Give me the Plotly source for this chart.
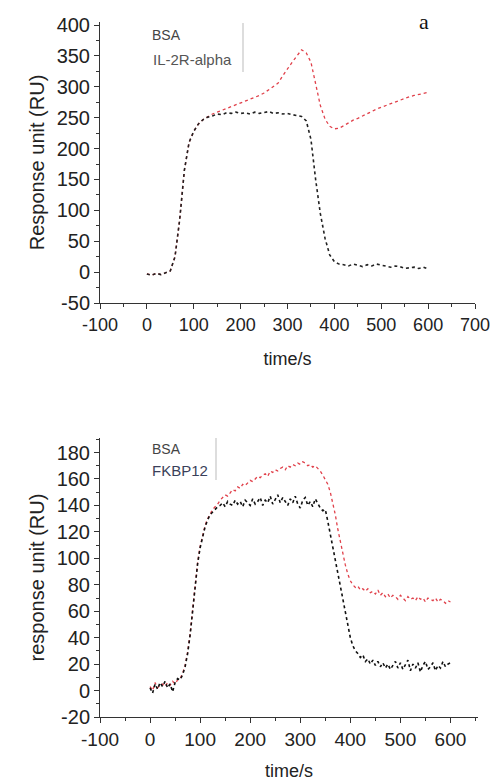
import plotly.graph_objects as go

# ---------------- data ----------------
# Panel a (top): time step 10 s
t_top = list(range(0, 601, 10))
bsa_top = [-3, -5, -2, -4, -1, 2, 25, 85, 165, 210,
           228, 240, 247, 251, 253, 256, 255, 258, 257, 259,
           257, 258, 256, 259, 257, 258, 260, 257, 258, 256,
           257, 255, 254, 252, 245, 215, 150, 95, 55, 28,
           17, 13, 12, 10, 13, 11, 9, 12, 10, 13,
           11, 9, 8, 10, 9, 6, 7, 8, 6, 8, 5]
il2r_top = [-3, -5, -2, -4, -1, 2, 25, 85, 165, 210,
            228, 240, 247, 252, 256, 259, 262, 265, 268, 271,
            273, 276, 279, 282, 286, 290, 295, 300, 306, 318,
            330, 340, 350, 360, 355, 340, 305, 270, 248, 236,
            232, 233, 237, 242, 246, 249, 253, 256, 260, 264,
            267, 270, 273, 276, 279, 282, 284, 286, 288, 289, 291]

# Bottom panel: time step 5 s
t_bot = list(range(0, 601, 5))
bsa_bot = [2, -2, 5, 1, 6, 3, 7, 2, 5, -1, 6, 9, 8, 12, 18, 28, 42, 60, 78, 96,
           108, 117, 124, 129, 133, 135, 137, 139, 140, 142, 139, 143, 141, 140, 144, 141, 143, 139, 144, 142,
           140, 145, 141, 143, 146, 140, 144, 142, 147, 141, 144, 148, 142, 146, 143, 140, 145, 142, 147, 141,
           138, 144, 146, 140, 143, 139, 145, 141, 138, 136, 137, 128, 118, 110, 100, 88, 78, 68, 58, 49,
           40, 34, 30, 28, 25, 27, 22, 24, 20, 23, 19, 22, 18, 21, 17, 20, 16, 19, 22, 17,
           21, 16, 19, 23, 15, 20, 17, 21, 14, 19, 22, 16, 18, 21, 15, 19, 17, 22, 18, 20, 21]
fkbp_bot = [3, 0, 6, 2, 4, 5, 3, 6, 4, 7, 5, 8, 9, 13, 19, 29, 43, 61, 79, 97,
            109, 118, 125, 130, 134, 137, 139, 141, 144, 146, 148, 147, 150, 152, 151, 154, 153, 156, 155, 157,
            159, 158, 160, 162, 161, 163, 164, 162, 166, 165, 167, 166, 168, 169, 167, 170, 169, 171, 170, 172,
            171, 173, 172, 170, 171, 169, 170, 168, 166, 163, 160, 156, 150, 142, 133, 122, 112, 103, 95, 88,
            83, 80, 78, 79, 76, 77, 75, 77, 74, 75, 73, 76, 72, 74, 71, 73, 70, 72, 71, 69,
            72, 70, 68, 71, 69, 70, 68, 71, 69, 70, 67, 70, 69, 68, 70, 67, 69, 68, 66, 68, 67]

top_x_ticks = list(range(-100, 701, 100))
top_y_ticks = list(range(-50, 401, 50))
bot_x_ticks = list(range(-100, 601, 100))
bot_y_ticks = list(range(-20, 181, 20))

top_legend = ["BSA", "IL-2R-alpha"]
bot_legend = ["BSA", "FKBP12"]

# ---------------- figure ----------------
W, H = 496, 781
def px(x):
    return x / W
def py(y):
    return 1 - y / H

RED = "#e0404a"
fig = go.Figure()

fig.add_trace(go.Scatter(x=t_top, y=il2r_top, mode="lines", xaxis="x", yaxis="y",
                         line=dict(color=RED, width=1.3, dash="dot"), showlegend=False))
fig.add_trace(go.Scatter(x=t_top, y=bsa_top, mode="lines", xaxis="x", yaxis="y",
                         line=dict(color="#222222", width=1.6, dash="dot"), showlegend=False))
fig.add_trace(go.Scatter(x=t_bot, y=fkbp_bot, mode="lines", xaxis="x2", yaxis="y2",
                         line=dict(color=RED, width=1.3, dash="dot"), showlegend=False))
fig.add_trace(go.Scatter(x=t_bot, y=bsa_bot, mode="lines", xaxis="x2", yaxis="y2",
                         line=dict(color="#111111", width=1.6, dash="dot"), showlegend=False))

FONT = "Liberation Sans, Arial, sans-serif"
axis_common = dict(showline=True, linecolor="#333", linewidth=1, showgrid=False, zeroline=False,
                   ticks="outside", ticklen=5, tickcolor="#333", automargin=False,
                   minor=dict(ticks="outside", ticklen=3, tickcolor="#333"))

def lab(v):
    return [str(x) for x in v]

fig.update_layout(
    width=W, height=H, margin=dict(l=0, r=0, t=0, b=0),
    paper_bgcolor="white", plot_bgcolor="white",
    font=dict(family=FONT, color="#222"),
    xaxis=dict(domain=[px(100), px(475)], range=[-100, 700], anchor="y",
               tickvals=top_x_ticks, ticktext=lab(top_x_ticks), minor_dtick=50,
               tickfont=dict(size=18), title=dict(text="time/s", font=dict(size=18), standoff=18),
               **axis_common),
    yaxis=dict(domain=[py(303), py(22)], range=[-50, 405], anchor="x",
               tickvals=top_y_ticks, ticktext=lab(top_y_ticks), minor_dtick=25,
               tickfont=dict(size=20), title=dict(text="Response unit (RU)", font=dict(size=20), standoff=6),
               **axis_common),
    xaxis2=dict(domain=[px(100), px(478)], range=[-100, 655], anchor="y2",
                tickvals=bot_x_ticks, ticktext=lab(bot_x_ticks), minor_dtick=50,
                tickfont=dict(size=19), title=dict(text="time/s", font=dict(size=18), standoff=15),
                **axis_common),
    yaxis2=dict(domain=[py(717), py(438)], range=[-20, 191], anchor="x2",
                tickvals=bot_y_ticks, ticktext=lab(bot_y_ticks), minor_dtick=10,
                tickfont=dict(size=20), title=dict(text="response unit (RU)", font=dict(size=20), standoff=6),
                **axis_common),
)

ann = []
ann.append(dict(x=px(150), y=py(35), xref="paper", yref="paper", text=top_legend[0], showarrow=False,
                xanchor="left", yanchor="middle", font=dict(size=14, color="#444")))
ann.append(dict(x=px(151), y=py(59), xref="paper", yref="paper", text=top_legend[1], showarrow=False,
                xanchor="left", yanchor="middle", font=dict(size=15, color="#555")))
ann.append(dict(x=px(150), y=py(449), xref="paper", yref="paper", text=bot_legend[0], showarrow=False,
                xanchor="left", yanchor="middle", font=dict(size=14, color="#444")))
ann.append(dict(x=px(150), y=py(470), xref="paper", yref="paper", text=bot_legend[1], showarrow=False,
                xanchor="left", yanchor="middle", font=dict(size=15, color="#3a3f5a")))
ann.append(dict(x=px(424), y=py(22), xref="paper", yref="paper", text="a", showarrow=False,
                xanchor="center", yanchor="middle",
                font=dict(size=22, color="#111", family="Liberation Serif, Times New Roman, serif")))
fig.update_layout(annotations=ann)

fig.add_shape(type="line", xref="paper", yref="paper", x0=px(243), x1=px(243), y0=py(23), y1=py(72),
              line=dict(color="#bbb", width=1))
fig.add_shape(type="line", xref="paper", yref="paper", x0=px(216), x1=px(216), y0=py(438), y1=py(480),
              line=dict(color="#bbb", width=1))

fig.write_html("out.html", config={"displayModeBar": False},
               post_script="document.body.style.margin='0';")
